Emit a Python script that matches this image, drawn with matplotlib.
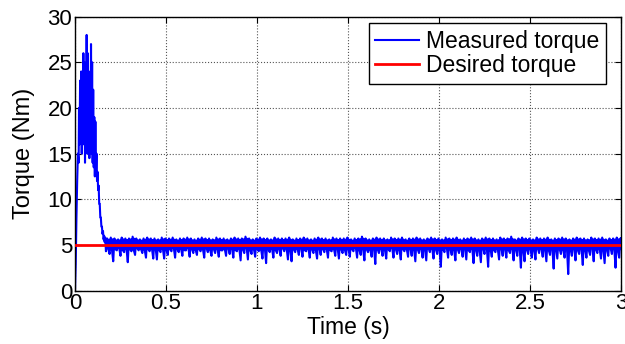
import numpy as np
import matplotlib
matplotlib.use("Agg")
import matplotlib.pyplot as plt

# ---- data ----
# start-up transient (time in s, torque in Nm)
t_trans = [0.000, 0.004, 0.008, 0.012, 0.016, 0.020, 0.022, 0.025, 0.028, 0.031,
           0.034, 0.037, 0.040, 0.043, 0.046, 0.049, 0.052, 0.055, 0.058, 0.061,
           0.064, 0.067, 0.070, 0.073, 0.076, 0.079, 0.082, 0.085, 0.088, 0.091,
           0.094, 0.097, 0.100, 0.103, 0.106, 0.109, 0.112, 0.115, 0.118, 0.121,
           0.124, 0.127, 0.130, 0.133, 0.136, 0.139, 0.142, 0.145, 0.148, 0.151,
           0.154, 0.157, 0.160, 0.163, 0.166]
torque_trans = [0.0, 3.0, 8.0, 12.0, 15.0, 14.0, 20.0, 16.0, 23.0, 17.0,
                24.0, 15.0, 22.0, 16.0, 26.0, 19.0, 25.0, 14.0, 23.0, 17.0,
                28.0, 15.0, 26.0, 18.0, 24.0, 14.5, 22.0, 16.0, 27.0, 15.0,
                25.0, 14.0, 22.0, 13.5, 19.0, 12.5, 18.5, 13.0, 15.0, 12.0,
                13.0, 11.0, 11.5, 9.5, 9.5, 8.0, 8.0, 7.0, 7.0, 6.2,
                6.5, 5.6, 6.0, 5.3, 5.8]

# steady state: lower excursions (one every 0.02 s from 0.17 s)
steady_low = [4.3, 4.0, 3.2, 4.4, 3.8, 4.2, 3.1, 4.3, 3.9, 4.4,
              4.1, 3.6, 4.3, 3.5, 3.4, 4.2, 3.5, 3.9, 4.3, 3.6,
              4.2, 3.8, 4.4, 3.7, 4.1, 3.9, 4.3, 3.6, 4.2, 3.8,
              4.1, 3.7, 4.4, 3.8, 4.0, 3.6, 4.3, 3.3, 4.1, 3.4,
              4.0, 3.7, 4.3, 3.5, 3.0, 4.2, 3.6, 4.1, 3.8, 4.3,
              3.4, 3.2, 4.2, 3.9, 3.7, 4.3, 3.6, 4.1, 3.5, 3.9,
              4.2, 3.6, 4.3, 3.8, 3.5, 4.1, 3.9, 3.7, 4.3, 3.6,
              3.9, 3.3, 4.2, 3.7, 2.9, 4.1, 3.8, 3.5, 4.3, 3.6,
              4.0, 3.4, 4.3, 3.7, 3.8, 3.2, 4.1, 3.6, 3.3, 4.2,
              3.5, 4.0, 2.6, 4.2, 3.6, 3.9, 3.3, 4.1, 3.7, 3.4,
              4.2, 3.0, 3.8, 3.1, 4.0, 2.6, 3.7, 4.2, 3.4, 3.8,
              3.6, 4.1, 3.3, 3.8, 2.5, 3.2, 4.0, 3.6, 3.4, 4.1,
              3.7, 3.2, 3.9, 2.4, 3.5, 4.0, 3.6, 1.8, 3.8, 3.3,
              4.0, 2.8, 3.6, 3.9, 3.2, 4.1, 3.5, 3.0, 3.8, 4.0,
              2.5, 3.6]
# steady state: upper excursions
steady_high = [5.7, 5.8, 5.7, 5.6, 5.8, 5.7, 5.7, 5.9, 5.7, 5.6,
               5.7, 5.8, 5.7, 5.7, 5.6, 5.8, 5.7, 5.7, 5.8, 5.6,
               5.7, 5.7, 5.8, 5.7, 5.6, 5.7, 5.8, 5.7, 5.7, 5.6,
               5.8, 5.7, 5.7, 5.6, 5.7, 5.8, 5.7, 5.7, 5.9, 5.7,
               5.6, 5.7, 5.8, 5.7, 5.7, 5.6, 5.8, 5.7, 5.7, 5.7,
               5.8, 5.6, 5.7, 5.7, 5.8, 5.7, 5.6, 5.7, 5.8, 5.7,
               5.7, 5.6, 5.8, 5.7, 5.7, 5.7, 5.8, 5.6, 5.7, 5.7,
               5.9, 5.7, 5.6, 5.7, 5.8, 5.7, 5.7, 5.6, 5.8, 5.7,
               5.7, 5.8, 5.6, 5.7, 5.7, 5.8, 5.7, 5.6, 5.7, 5.8,
               5.7, 5.7, 5.6, 5.8, 5.7, 5.7, 5.8, 5.6, 5.7, 5.7,
               5.8, 5.7, 5.6, 5.7, 5.8, 5.7, 5.7, 5.6, 5.8, 5.7,
               5.7, 5.9, 5.6, 5.7, 5.8, 5.7, 5.7, 5.6, 5.8, 5.7,
               5.7, 5.8, 5.6, 5.7, 5.7, 5.8, 5.7, 5.6, 5.7, 5.8,
               5.7, 5.7, 5.6, 5.8, 5.7, 5.7, 5.8, 5.6, 5.7, 5.7,
               5.8, 5.7]
# steady state: bottom edge of the dense band
steady_base = [4.5, 4.4, 4.5, 4.6, 4.4, 4.5, 4.5, 4.4, 4.6, 4.5,
               4.4, 4.5, 4.5, 4.6, 4.4, 4.5, 4.4, 4.5, 4.6, 4.5,
               4.5, 4.4, 4.6, 4.5, 4.4, 4.5, 4.5, 4.6, 4.4, 4.5,
               4.5, 4.4, 4.5, 4.6, 4.5, 4.4, 4.5, 4.5, 4.6, 4.4,
               4.5, 4.5, 4.4, 4.6, 4.5, 4.5, 4.4, 4.5, 4.6, 4.5,
               4.4, 4.5, 4.5, 4.6, 4.4, 4.5, 4.5, 4.4, 4.6, 4.5,
               4.5, 4.4, 4.5, 4.6, 4.5, 4.4, 4.5, 4.5, 4.6, 4.4,
               4.5, 4.5, 4.4, 4.6, 4.5, 4.5, 4.4, 4.5, 4.6, 4.5,
               4.4, 4.5, 4.5, 4.6, 4.4, 4.5, 4.5, 4.4, 4.6, 4.5,
               4.5, 4.4, 4.5, 4.6, 4.5, 4.4, 4.5, 4.5, 4.6, 4.4,
               4.5, 4.5, 4.4, 4.6, 4.5, 4.5, 4.4, 4.5, 4.6, 4.5,
               4.4, 4.5, 4.5, 4.6, 4.4, 4.5, 4.5, 4.4, 4.6, 4.5,
               4.5, 4.4, 4.5, 4.6, 4.5, 4.4, 4.5, 4.5, 4.6, 4.4,
               4.5, 4.5, 4.4, 4.6, 4.5, 4.5, 4.4, 4.5, 4.6, 4.5,
               4.4, 4.5]
steady_start = 0.17
steady_step = 0.02

desired_t = [0.0, 3.0]
desired_torque = [5.0, 5.0]

x_ticks = [0, 0.5, 1, 1.5, 2, 2.5, 3]
x_ticklabels = ["0", "0.5", "1", "1.5", "2", "2.5", "3"]
y_ticks = [0, 5, 10, 15, 20, 25, 30]

# ---- assemble measured series (low, high, band-bottom per 0.02 s) ----
t_steady = []
v_steady = []
t_band = []
for k in range(len(steady_low)):
    t0 = steady_start + steady_step * k
    t_steady += [t0, t0 + steady_step / 3, t0 + 2 * steady_step / 3]
    v_steady += [steady_low[k], steady_high[k], steady_base[k]]
    t_band.append(t0 + steady_step / 3)
t_meas = np.array(t_trans + t_steady + [3.0])
v_meas = np.array(torque_trans + v_steady + [5.7])

# ---- figure ----
plt.rcParams['font.family'] = ['Liberation Sans', 'DejaVu Sans']
fig = plt.figure(figsize=(6.25, 3.44), dpi=100)
ax = fig.add_axes([0.12, 0.1555, 0.8736, 0.796])

blue = '#0000ff'
ax.fill_between(t_band, steady_base, steady_high, color=blue, lw=0, zorder=2)
ax.plot(t_meas, v_meas, color=blue, lw=1.5, label='Measured torque', zorder=2)
ax.plot(desired_t, desired_torque, color='#ff0000', lw=2.0, label='Desired torque',
        zorder=3)

ax.set_xlim(0, 3)
ax.set_ylim(0, 30)
ax.set_xticks(x_ticks)
ax.set_xticklabels(x_ticklabels)
ax.set_yticks(y_ticks)
ax.tick_params(direction='in', top=True, right=True, labelsize=16, length=4,
               width=0.8, pad=2, colors='black')
ax.grid(True, linestyle=':', color='#555555', linewidth=0.8)
for s in ax.spines.values():
    s.set_linewidth(1.0)
    s.set_color('black')

ax.set_xlabel('Time (s)', fontsize=16.5, labelpad=1)
ax.set_ylabel('Torque (Nm)', fontsize=17, labelpad=9)

leg = ax.legend(loc='upper right', bbox_to_anchor=(0.9725, 0.977), borderaxespad=0,
                fontsize=16.5, handlelength=1.9, handletextpad=0.3,
                labelspacing=0.05, borderpad=0.3, fancybox=False, framealpha=1)
leg.get_frame().set_edgecolor('black')
leg.get_frame().set_linewidth(1.0)
leg.set_zorder(5)

fig.savefig('out.png', dpi=100)
